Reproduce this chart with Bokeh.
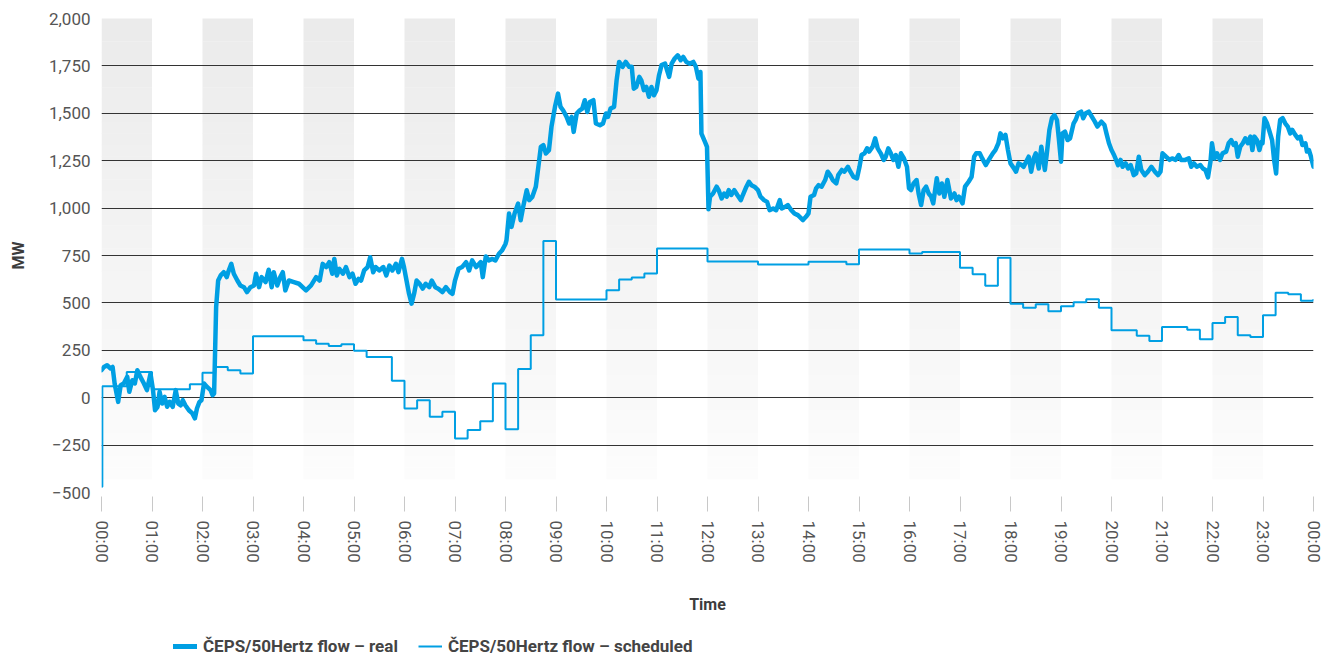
import numpy as np
from bokeh.plotting import figure
from bokeh.layouts import column
from bokeh.models import Range1d, FixedTicker, Legend, LegendItem
from bokeh.embed import file_html
from bokeh.resources import INLINE

# ---------------- data ----------------
hour_ticks = list(range(25))
tick_labels = ["00:00", "01:00", "02:00", "03:00", "04:00", "05:00", "06:00", "07:00",
               "08:00", "09:00", "10:00", "11:00", "12:00", "13:00", "14:00", "15:00",
               "16:00", "17:00", "18:00", "19:00", "20:00", "21:00", "22:00", "23:00", "00:00"]
y_ticks = [-500, -250, 0, 250, 500, 750, 1000, 1250, 1500, 1750, 2000]
y_tick_labels = ["\u2212500", "\u2212250", "0", "250", "500", "750", "1,000", "1,250",
                 "1,500", "1,750", "2,000"]

real_hour = [
    0.00, 0.05, 0.11, 0.18, 0.22, 0.26, 0.33, 0.38, 0.44, 0.51, 0.55, 0.61, 0.66, 0.71, 0.77,
    0.84, 0.90, 0.97, 1.02, 1.06, 1.11, 1.15, 1.20, 1.25, 1.30, 1.35, 1.41, 1.47, 1.52, 1.57,
    1.61, 1.66, 1.73, 1.80, 1.85, 1.89, 1.94, 1.98, 2.03, 2.09, 2.16, 2.20, 2.23, 2.27, 2.31,
    2.36, 2.42, 2.48, 2.52, 2.57, 2.62, 2.69, 2.75, 2.82, 2.88, 2.95, 3.02, 3.06, 3.12, 3.17,
    3.25, 3.31, 3.37, 3.41, 3.48, 3.54, 3.59, 3.64, 3.71, 3.81, 3.91, 4.05, 4.15, 4.25, 4.32,
    4.38, 4.45, 4.51, 4.57, 4.61, 4.66, 4.71, 4.78, 4.84, 4.91, 4.97, 5.03, 5.09, 5.14, 5.20,
    5.27, 5.32, 5.38, 5.43, 5.50, 5.58, 5.64, 5.70, 5.76, 5.83, 5.88, 5.95, 5.99, 6.04, 6.09,
    6.14, 6.19, 6.24, 6.30, 6.36, 6.42, 6.49, 6.54, 6.61, 6.67, 6.75, 6.82, 6.90, 6.95, 7.00,
    7.07, 7.14, 7.22, 7.28, 7.34, 7.42, 7.51, 7.55, 7.61, 7.67, 7.74, 7.80, 7.87, 7.93, 8.00,
    8.02, 8.07, 8.12, 8.18, 8.25, 8.30, 8.35, 8.42, 8.47, 8.53, 8.60, 8.65, 8.70, 8.75, 8.80,
    8.86, 8.91, 8.98, 9.04, 9.09, 9.14, 9.21, 9.26, 9.31, 9.35, 9.41, 9.47, 9.52, 9.57, 9.62,
    9.67, 9.74, 9.79, 9.87, 9.93, 9.99, 10.03, 10.08, 10.15, 10.20, 10.25, 10.32, 10.38, 10.45,
    10.50, 10.54, 10.59, 10.65, 10.69, 10.74, 10.79, 10.84, 10.89, 10.94, 10.99, 11.04, 11.09,
    11.16, 11.20, 11.24, 11.29, 11.35, 11.41, 11.47, 11.52, 11.58, 11.65, 11.72, 11.77, 11.82,
    11.86, 11.88, 11.95, 11.99, 12.02, 12.05, 12.11, 12.18, 12.22, 12.28, 12.33, 12.38, 12.42,
    12.47, 12.53, 12.59, 12.66, 12.70, 12.77, 12.82, 12.87, 12.93, 13.00, 13.05, 13.12, 13.18,
    13.23, 13.30, 13.36, 13.43, 13.47, 13.54, 13.59, 13.66, 13.72, 13.79, 13.86, 13.89, 13.95,
    14.00, 14.04, 14.11, 14.15, 14.20, 14.26, 14.33, 14.38, 14.43, 14.48, 14.55, 14.59, 14.66,
    14.71, 14.78, 14.83, 14.89, 14.96, 15.01, 15.05, 15.11, 15.16, 15.20, 15.27, 15.32, 15.37,
    15.43, 15.49, 15.53, 15.58, 15.63, 15.68, 15.73, 15.78, 15.83, 15.89, 15.95, 15.99, 16.03,
    16.08, 16.14, 16.18, 16.23, 16.28, 16.33, 16.38, 16.43, 16.47, 16.54, 16.59, 16.64, 16.69,
    16.75, 16.82, 16.89, 16.93, 16.98, 17.05, 17.10, 17.17, 17.23, 17.28, 17.32, 17.39, 17.44,
    17.51, 17.57, 17.65, 17.70, 17.76, 17.80, 17.85, 17.90, 17.95, 18.00, 18.07, 18.11, 18.16,
    18.22, 18.26, 18.31, 18.36, 18.41, 18.46, 18.50, 18.56, 18.61, 18.68, 18.72, 18.77, 18.82,
    18.87, 18.92, 18.96, 19.00, 19.03, 19.08, 19.13, 19.18, 19.25, 19.29, 19.34, 19.40, 19.44,
    19.49, 19.55, 19.61, 19.67, 19.72, 19.80, 19.86, 19.90, 19.95, 20.00, 20.05, 20.09, 20.13,
    20.18, 20.22, 20.28, 20.33, 20.38, 20.44, 20.49, 20.54, 20.59, 20.66, 20.72, 20.79, 20.86,
    20.92, 20.97, 21.01, 21.08, 21.15, 21.20, 21.27, 21.33, 21.38, 21.46, 21.53, 21.58, 21.63,
    21.69, 21.76, 21.81, 21.86, 21.91, 21.96, 21.99, 22.04, 22.09, 22.15, 22.20, 22.27, 22.32,
    22.37, 22.42, 22.46, 22.50, 22.55, 22.60, 22.65, 22.70, 22.75, 22.79, 22.83, 22.88, 22.93,
    22.97, 22.99, 23.03, 23.08, 23.12, 23.18, 23.22, 23.26, 23.30, 23.34, 23.39, 23.44, 23.49,
    23.54, 23.58, 23.64, 23.69, 23.74, 23.78, 23.84, 23.87, 23.91, 23.95, 24.00,
]
real_mw = [
    145, 162, 171, 154, 162, 75, -22, 66, 75, 110, 31, 92, 75, 145, 110,
    75, 40, 127, 40, -66, -48, 31, -31, 4, -48, -22, -48, 40, -31, -40,
    -13, -40, -66, -83, -109, -57, -22, -13, 75, 57, 40, 13, 22, 478, 618,
    645, 662, 636, 671, 706, 654, 618, 592, 583, 557, 583, 592, 654, 583, 636,
    610, 675, 583, 662, 592, 636, 662, 566, 618, 610, 601, 566, 592, 636, 618,
    706, 689, 715, 654, 732, 645, 680, 654, 689, 636, 654, 601, 627, 618, 671,
    689, 741, 662, 689, 671, 689, 645, 697, 671, 706, 662, 732, 689, 618, 548,
    496, 548, 618, 601, 575, 601, 583, 618, 583, 575, 557, 583, 557, 548, 618,
    680, 689, 715, 671, 724, 689, 715, 636, 745, 724, 732, 724, 759, 776, 811,
    831, 971, 901, 971, 1024, 936, 1007, 1094, 1042, 1059, 1112, 1217, 1323, 1332, 1288,
    1305, 1428, 1534, 1604, 1534, 1516, 1481, 1446, 1481, 1402, 1499, 1516, 1525, 1569, 1507,
    1560, 1569, 1446, 1437, 1446, 1499, 1481, 1525, 1534, 1674, 1771, 1745, 1771, 1745,
    1745, 1630, 1639, 1692, 1674, 1622, 1639, 1587, 1639, 1595, 1622, 1701, 1754,
    1762, 1727, 1692, 1762, 1789, 1806, 1780, 1797, 1771, 1762, 1771, 1745, 1683,
    1718, 1393, 1349, 1323, 994, 1060, 1077, 1113, 1095, 1051, 1077, 1060, 1095,
    1069, 1095, 1069, 1042, 1069, 1113, 1139, 1121, 1113, 1095, 1060, 1042, 1033,
    989, 998, 989, 1042, 998, 1007, 1016, 989, 972, 963, 945, 937, 954,
    972, 1060, 1069, 1104, 1121, 1113, 1148, 1192, 1174, 1148, 1130, 1174, 1201,
    1192, 1218, 1192, 1165, 1157, 1218, 1280, 1289, 1315, 1298, 1324, 1368, 1315,
    1289, 1254, 1271, 1315, 1289, 1254, 1280, 1218, 1289, 1262, 1218, 1104, 1095,
    1130, 1148, 1077, 1016, 1095, 1113, 1077, 1060, 1025, 1157, 1077, 1130, 1060,
    1148, 1051, 1077, 1042, 1060, 1025, 1113, 1139, 1165, 1271, 1289, 1289, 1262,
    1227, 1254, 1289, 1306, 1342, 1394, 1368, 1386, 1306, 1236, 1209, 1192, 1236,
    1227, 1218, 1245, 1271, 1192, 1262, 1289, 1209, 1324, 1201, 1289, 1412, 1474,
    1491, 1465, 1359, 1245, 1394, 1403, 1359, 1368, 1447, 1465, 1500, 1509, 1474,
    1500, 1509, 1482, 1456, 1430, 1456, 1438, 1394, 1342, 1306, 1280, 1254, 1227,
    1254, 1218, 1236, 1209, 1227, 1174, 1183, 1271, 1201, 1174, 1192, 1218, 1192,
    1174, 1192, 1289, 1271, 1254, 1262, 1254, 1280, 1254, 1254, 1262, 1218, 1236,
    1218, 1227, 1209, 1201, 1162, 1245, 1342, 1262, 1289, 1254, 1289, 1298, 1342,
    1359, 1333, 1342, 1271, 1324, 1342, 1368, 1342, 1377, 1306, 1377, 1359, 1306,
    1350, 1342, 1474, 1447, 1412, 1359, 1254, 1183, 1377, 1465, 1474, 1447, 1430,
    1394, 1412, 1386, 1368, 1377, 1333, 1342, 1298, 1306, 1271, 1218,
]

sched_minute = [0, 1, 30, 60, 105, 120, 135, 150, 165, 180, 240, 255, 270, 285, 300, 315,
                345, 360, 375, 390, 405, 420, 435, 450, 465, 480, 495, 510, 525, 540, 600,
                615, 630, 645, 660, 720, 780, 840, 885, 900, 960, 975, 1020, 1035, 1050,
                1065, 1080, 1095, 1110, 1125, 1140, 1155, 1170, 1185, 1200, 1230, 1245,
                1260, 1290, 1305, 1320, 1335, 1350, 1365, 1380, 1395, 1410, 1425, 1440]
sched_mw = [-470, 60, 136, 45, 71, 131, 162, 145, 127, 324, 303, 285, 273, 282, 247, 215,
            89, -57, -13, -101, -74, -215, -171, -124, 75, -167, 151, 330, 827, 518, 567,
            623, 634, 655, 787, 718, 702, 717, 704, 782, 760, 768, 685, 651, 590,
            738, 496, 475, 493, 456, 482, 503, 519, 475, 356, 327, 299,
            373, 359, 308, 394, 426, 329, 320, 435, 553, 546, 511, 520]

series_names = ["\u010cEPS/50Hertz flow \u2013 real", "\u010cEPS/50Hertz flow \u2013 scheduled"]

# ---------------- styling ----------------
BLUE = "#009FE3"
FONT = "Roboto"
TXT = "#555555"
W = 1327

p = figure(frame_width=1212, frame_height=474, output_backend="svg", toolbar_location=None,
           x_range=Range1d(0, 24), y_range=Range1d(-500, 2000),
           min_border_left=101, min_border_right=14, min_border_top=18, min_border_bottom=135)
p.outline_line_color = None
p.background_fill_color = "white"
p.border_fill_color = "white"

# alternating hour bands with a soft vertical fade
N = 40
edges = np.linspace(2000, -430, N + 1)
lefts, rights, tops, bottoms, cols = [], [], [], [], []
for h in range(0, 24, 2):
    for k in range(N):
        g = int(round(235 + (252 - 235) * k / (N - 1)))
        lefts.append(h)
        rights.append(h + 1)
        tops.append(edges[k] + 2)
        bottoms.append(edges[k + 1])
        cols.append("#%02x%02x%02x" % (g, g, g))
p.quad(left=lefts, right=rights, top=tops, bottom=bottoms, fill_color=cols,
       line_color=None, level="image")

sched_hour = [m / 60 for m in sched_minute]
r_sched = p.step(sched_hour, sched_mw, mode="after", line_color=BLUE, line_width=2)
r_real = p.line(real_hour, real_mw, line_color=BLUE, line_width=4.5,
                line_join="round", line_cap="round")

# axes
p.xaxis.ticker = FixedTicker(ticks=hour_ticks)
p.xaxis.major_label_overrides = {h: lab for h, lab in zip(hour_ticks, tick_labels)}
p.xaxis.major_label_orientation = "vertical"
p.xaxis.axis_line_color = None
p.xaxis.major_tick_line_color = "#c8c8c8"
p.xaxis.major_tick_in = -4
p.xaxis.major_tick_out = 19
p.xaxis.minor_tick_line_color = None
p.xaxis.major_label_standoff = 9
p.xaxis.axis_label = "Time"
p.xaxis.axis_label_standoff = 29

p.yaxis.ticker = FixedTicker(ticks=y_ticks)
p.yaxis.major_label_overrides = {v: lab for v, lab in zip(y_ticks, y_tick_labels)}
p.yaxis.axis_line_color = None
p.yaxis.major_tick_line_color = None
p.yaxis.minor_tick_line_color = None
p.yaxis.major_label_standoff = 5
p.yaxis.axis_label = "MW"
p.yaxis.axis_label_standoff = 18

for ax in (p.xaxis[0], p.yaxis[0]):
    ax.major_label_text_font = FONT
    ax.major_label_text_font_size = "17px"
    ax.major_label_text_color = TXT
    ax.axis_label_text_font = FONT
    ax.axis_label_text_font_size = "16px"
    ax.axis_label_text_font_style = "bold"
    ax.axis_label_text_color = "#3c3c3c"

p.xgrid.grid_line_color = None
p.ygrid.ticker = FixedTicker(ticks=y_ticks)
p.ygrid.grid_line_color = "#333333"
p.ygrid.grid_line_width = 1

# legend strip below the chart: its own small figure (no axes), legend drawn inside its frame.
# The legend renderers hold the same series but the strip's ranges keep them out of view.
pl = figure(width=W, height=34, output_backend="svg", toolbar_location=None,
            x_axis_type=None, y_axis_type=None,
            x_range=Range1d(-20, -19), y_range=Range1d(-5000, -4999),
            min_border_left=0, min_border_right=0, min_border_top=0, min_border_bottom=0)
pl.grid.visible = False
pl.outline_line_color = None
leg_real = pl.line(real_hour, real_mw, line_color=BLUE, line_width=5, line_cap="round")
leg_sched = pl.step(sched_hour, sched_mw, mode="after", line_color=BLUE, line_width=2)

legend = Legend(items=[LegendItem(label=series_names[0], renderers=[leg_real]),
                       LegendItem(label=series_names[1], renderers=[leg_sched])],
                orientation="horizontal", location=(72, 5))
legend.label_text_font = FONT
legend.label_text_font_size = "17px"
legend.label_text_font_style = "bold"
legend.label_text_color = "#444444"
legend.glyph_width = 24
legend.label_standoff = 6
legend.spacing = 20
legend.padding = 6
legend.margin = 0
legend.border_line_color = None
legend.background_fill_alpha = 0
pl.add_layout(legend)

layout = column(p, pl, spacing=0)
open("out.html", "w").write(file_html(layout, INLINE))
